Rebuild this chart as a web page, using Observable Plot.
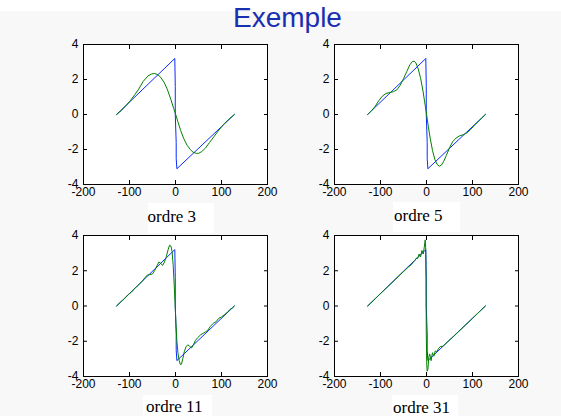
<!DOCTYPE html>
<html><head><meta charset="utf-8">
<script src="https://cdn.jsdelivr.net/npm/d3@7"></script>
<script src="https://cdn.jsdelivr.net/npm/@observablehq/plot@0.6"></script>
<style>
html,body{margin:0;padding:0;background:#f8f8f8;}
#root{position:relative;width:561px;height:416px;background:#f8f8f8;overflow:hidden;}
.band{position:absolute;left:0;top:0;width:561px;height:11px;background:#fff;}
.title{position:absolute;left:233px;top:4px;font:28px/28px "Liberation Sans",Arial,sans-serif;color:#1a2eb0;white-space:nowrap;}
.box{position:absolute;background:#fff;}
.lab{position:absolute;font:17px/17px "Liberation Serif","Times New Roman",serif;color:#000;white-space:nowrap;}
#root svg{position:absolute;}
</style></head><body><div id="root"><div class="band"></div></div><script>
const titleText = "Exemple";
const panelLabels = ["ordre 3", "ordre 5", "ordre 11", "ordre 31"];
const xTicks = [-200, -100, 0, 100, 200];
const yTicks = [-4, -2, 0, 2, 4];

// blue sawtooth
const sawX = [-128, -1.5, -0.5, -0.5, 1.5, 1.5, 3, 128];
const sawY = [0, 3.2, 1.6, 0, -1.6, -2.5, -3.1, 0];

// green approximations
const ordre3X = [-128,-118,-108,-98,-88,-80,-70,-60,-52,-46,-40,-33,-25,-18,-10,-4,0,5,11,18,25,32,38,45,50,57,65,74,84,94,105,116,128];
const ordre3Y = [0,0.22,0.5,0.8,1.15,1.45,1.9,2.2,2.32,2.34,2.3,2.15,1.85,1.45,0.85,0.35,0.03,-0.4,-0.9,-1.38,-1.75,-2.0,-2.15,-2.22,-2.22,-2.12,-1.92,-1.6,-1.25,-0.9,-0.55,-0.27,0];

const ordre5X = [-128,-120,-112,-104,-96,-88,-80,-72,-64,-57,-50,-43,-36,-31,-27,-23,-18,-13,-8,-4,0,4,8,13,18,23,28,32,37,43,50,57,64,72,80,88,96,104,112,120,128];
const ordre5Y = [0,0.2,0.45,0.78,1.05,1.2,1.26,1.3,1.42,1.68,2.05,2.45,2.85,3.02,3.05,2.95,2.6,2.1,1.4,0.72,0.03,-0.7,-1.35,-2.05,-2.55,-2.85,-2.95,-2.9,-2.7,-2.35,-1.9,-1.55,-1.35,-1.22,-1.15,-1.05,-0.85,-0.62,-0.42,-0.2,0];

const ordre11X = [-128,-120,-112,-104,-96,-88,-80,-72,-66,-61,-56,-50,-45,-40,-36,-32,-28,-24,-20,-16,-13,-10,-7.5,-5,-3,-1,1,3,5.5,8,10.5,13,16,19,23,27,31,35,39,43,48,54,60,65,70,76,82,88,94,100,106,112,118,124,128];
const ordre11Y = [0,0.22,0.38,0.62,0.78,1.02,1.2,1.42,1.62,1.76,1.78,1.82,2.02,2.3,2.5,2.42,2.3,2.5,2.8,3.2,3.45,3.4,3.1,2.3,1.3,0.2,-1.0,-2.0,-2.7,-3.1,-3.32,-3.3,-2.98,-2.6,-2.3,-2.2,-2.3,-2.38,-2.2,-1.97,-1.8,-1.65,-1.55,-1.47,-1.38,-1.15,-0.98,-0.9,-0.7,-0.62,-0.5,-0.38,-0.2,-0.1,0];

const ordre31X = [-128,-100,-70,-50,-40,-34,-30,-26,-22,-19,-16,-13,-10,-7,-4.5,-2.8,-1.8,-1,-0.5,0.5,1.5,3,5,7,10,13,16,19,22,26,30,36,45,60,80,100,128];
const ordre31Y = [0,0.7,1.45,1.95,2.2,2.32,2.45,2.55,2.72,2.7,2.95,2.78,3.15,2.95,3.4,3.75,3.3,1.5,-1.5,-3.3,-3.7,-3.6,-2.9,-2.72,-3.1,-2.65,-2.85,-2.55,-2.6,-2.42,-2.3,-2.28,-2.05,-1.7,-1.2,-0.7,0];

const greens = [[ordre3X, ordre3Y], [ordre5X, ordre5Y], [ordre11X, ordre11Y], [ordre31X, ordre31Y]];

// layout
const frames = [
  {left: 83, top: 44, w: 184, h: 140},
  {left: 334, top: 44, w: 184, h: 140},
  {left: 83, top: 235, w: 184, h: 141},
  {left: 334, top: 235, w: 184, h: 141}
];
const labelBoxes = [
  {bx: 148, by: 203, bw: 66, bh: 30, tx: 147.5, base: 222},
  {bx: 393, by: 202, bw: 67, bh: 30, tx: 394, base: 221},
  {bx: 143, by: 395, bw: 69, bh: 21, tx: 146, base: 412},
  {bx: 392, by: 395, bw: 66, bh: 21, tx: 393, base: 413}
];

const root = document.getElementById("root");
const t = document.createElement("div");
t.className = "title"; t.textContent = titleText; root.appendChild(t);

const toPts = (xs, ys) => xs.map((x, i) => ({x, y: ys[i]}));
const saw = toPts(sawX, sawY);
const fmt = d => String(d);
const ML = 33, MR = 13, MT = 10, MB = 22;

frames.forEach((f, i) => {
  const g = toPts(greens[i][0], greens[i][1]);
  const svg = Plot.plot({
    width: ML + f.w + MR, height: MT + f.h + MB,
    marginLeft: ML, marginRight: MR, marginTop: MT, marginBottom: MB,
    style: {background: "transparent", fontFamily: "'Liberation Sans', Arial, sans-serif", fontSize: "12px", color: "#000", overflow: "visible"},
    x: {domain: [-200, 200], label: null},
    y: {domain: [-4, 4], label: null},
    marks: [
      Plot.frame({fill: "#fff", stroke: "none"}),
      Plot.line(saw, {x: "x", y: "y", stroke: "#0a2cff", strokeWidth: 1}),
      Plot.line(g, {x: "x", y: "y", stroke: "#008000", strokeWidth: 1}),
      Plot.frame({stroke: "#000", strokeWidth: 1}),
      Plot.axisX(xTicks, {anchor: "bottom", tickSize: -4, tickPadding: 7, tickFormat: fmt, label: null}),
      Plot.axisX(xTicks, {anchor: "top", tickSize: -4, tickFormat: () => "", label: null}),
      Plot.axisY(yTicks, {anchor: "left", tickSize: -4, tickPadding: 9, tickFormat: fmt, label: null}),
      Plot.axisY(yTicks, {anchor: "right", tickSize: -4, tickFormat: () => "", label: null})
    ]
  });
  svg.style.left = (f.left - ML) + "px";
  svg.style.top = (f.top - MT) + "px";
  root.appendChild(svg);

  const lb = labelBoxes[i];
  const box = document.createElement("div");
  box.className = "box";
  Object.assign(box.style, {left: lb.bx + "px", top: lb.by + "px", width: lb.bw + "px", height: lb.bh + "px"});
  root.appendChild(box);
  const lab = document.createElement("div");
  lab.className = "lab";
  lab.textContent = panelLabels[i];
  Object.assign(lab.style, {left: lb.tx + "px", top: (lb.base - 14.3) + "px"});
  root.appendChild(lab);
});
</script></body></html>
